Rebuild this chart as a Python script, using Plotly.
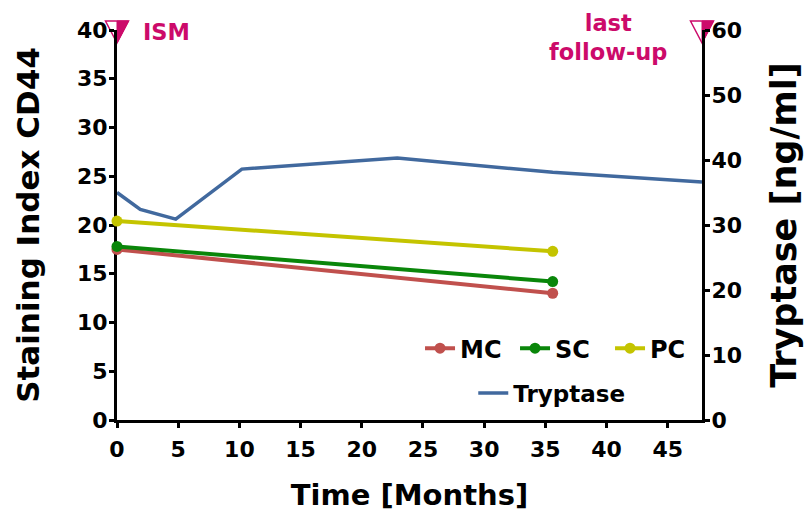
import plotly.graph_objects as go

# Staining index (CD44) per cell compartment, sampled at diagnosis and follow-up
stain_months = [0, 35.6]
mc_index = [17.5, 13.0]
sc_index = [17.8, 14.2]
pc_index = [20.4, 17.3]

# Serum tryptase course
tryptase_months = [0, 1.9, 4.8, 10.2, 22.9, 35.6, 47.8]
tryptase_ngml = [35.0, 32.4, 30.9, 38.6, 40.3, 38.1, 36.6]

# Clinical events marked on the top edge
event_months = [0, 47.8]
event_labels = ["ISM", "last<br>follow-up"]

x_ticks = [0, 5, 10, 15, 20, 25, 30, 35, 40, 45]
X_MAX = 47.8
Y_MAX = 40
Y2_MAX = 60

FONT = "DejaVu Sans, Liberation Sans, sans-serif"
MAGENTA = "#CC0A6A"


def bold(size, color="black"):
    return dict(family=FONT, size=size, color=color, weight=700)


fig = go.Figure()

series = [
    ("MC", mc_index, "#C0504D"),
    ("SC", sc_index, "#0A860A"),
    ("PC", pc_index, "#C4C400"),
]
for name, vals, color in series:
    fig.add_trace(go.Scatter(
        x=stain_months, y=vals, name=name, mode="lines+markers",
        line=dict(color=color, width=4),
        marker=dict(color=color, size=11),
        cliponaxis=False, legend="legend",
    ))

fig.add_trace(go.Scatter(
    x=tryptase_months, y=tryptase_ngml, name="Tryptase", mode="lines",
    line=dict(color="#41699E", width=3.5),
    yaxis="y2", cliponaxis=False, legend="legend2",
))

# Half-filled downward triangles for the event markers
for m in event_months:
    common = dict(type="path", xref="paper", yref="paper",
                  xsizemode="pixel", ysizemode="pixel",
                  xanchor=m / X_MAX, yanchor=Y_MAX / Y_MAX, layer="below")
    fig.add_shape(path="M -11.5,9 L 11.5,9 L 0,-13 Z",
                  fillcolor="white", line=dict(color=MAGENTA, width=1.5),
                  **common)
    fig.add_shape(path="M 0,9 L 11.5,9 L 0,-13 Z",
                  fillcolor=MAGENTA, line=dict(color=MAGENTA, width=1),
                  **common)

fig.add_annotation(x=event_months[0], y=Y_MAX, xref="x", yref="y",
                   text=event_labels[0], showarrow=False,
                   xanchor="left", yanchor="middle", xshift=24, yshift=-2,
                   font=bold(22.5, MAGENTA))
fig.add_annotation(x=event_months[1], y=Y_MAX, xref="x", yref="y",
                   text=event_labels[1], showarrow=False, align="center",
                   xanchor="right", yanchor="middle", xshift=-33, yshift=-7,
                   font=bold(22.5, MAGENTA))

axis_common = dict(
    showline=True, linecolor="black", linewidth=3,
    ticks="outside", ticklen=5, tickwidth=3, tickcolor="black",
    showgrid=False, zeroline=False,
    tickfont=bold(22),
    layer="below traces",
)

fig.update_layout(
    width=811, height=519,
    margin=dict(l=117, r=109, t=30, b=95),
    paper_bgcolor="white", plot_bgcolor="rgba(0,0,0,0)",
    font=dict(family=FONT, color="black"),
    xaxis=dict(range=[0, X_MAX], tickvals=x_ticks, ticklabelstandoff=3,
               **axis_common,
               title=dict(text="Time [Months]", standoff=24, font=bold(29))),
    yaxis=dict(range=[0, Y_MAX], dtick=5, ticklabelstandoff=-3, **axis_common,
               title=dict(text="Staining Index CD44", standoff=29, font=bold(31))),
    yaxis2=dict(range=[0, Y2_MAX], dtick=10, overlaying="y", side="right",
                ticklabelstandoff=-3, **axis_common,
                title=dict(text="Tryptase [ng/ml]", standoff=31, font=bold(35))),
    legend=dict(orientation="h", x=0.518, y=0.183, xanchor="left", yanchor="middle",
                bgcolor="rgba(0,0,0,0)", itemwidth=30, entrywidth=50,
                entrywidthmode="pixels", font=bold(24)),
    legend2=dict(orientation="h", x=0.609, y=0.069, xanchor="left", yanchor="middle",
                 bgcolor="rgba(0,0,0,0)", itemwidth=30, font=bold(23)),
    showlegend=True,
)

fig.write_html("out.html")
